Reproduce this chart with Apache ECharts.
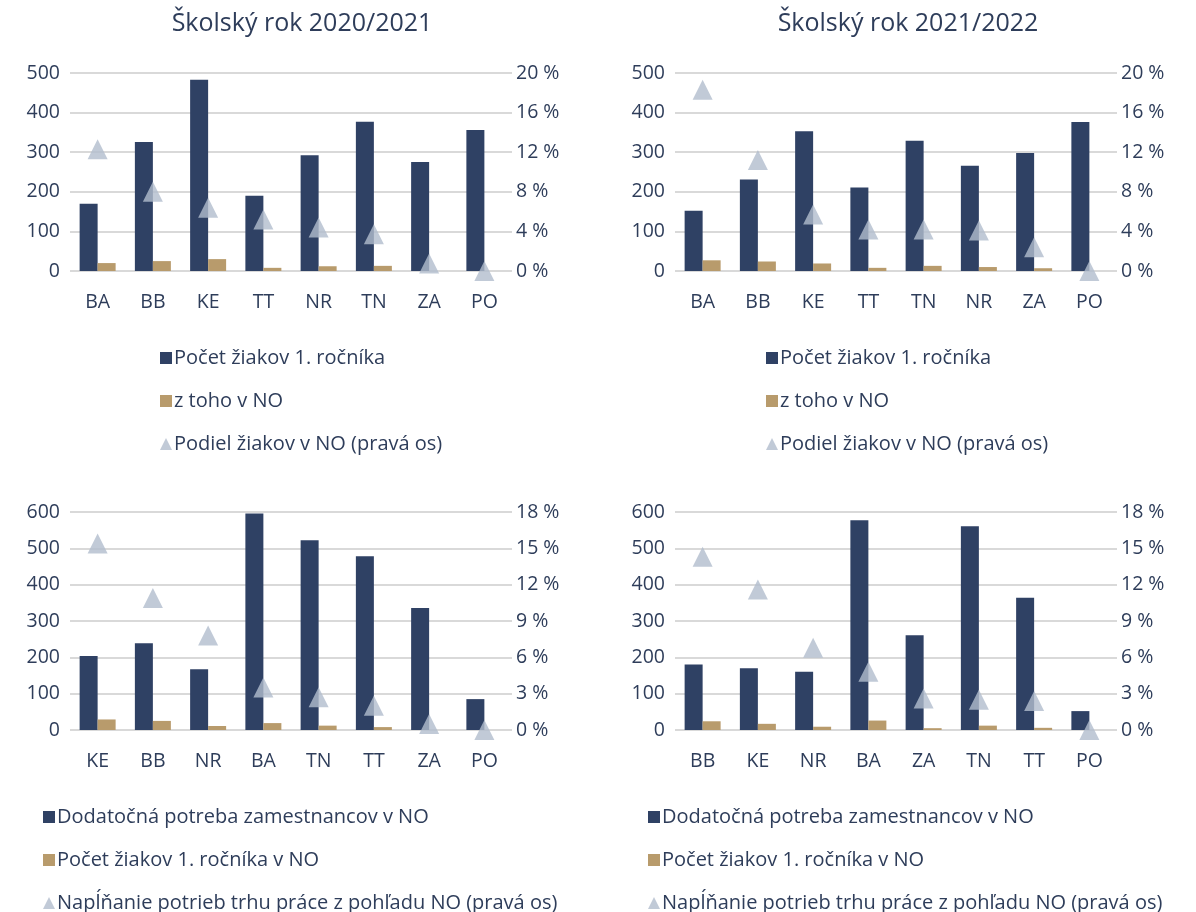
<!DOCTYPE html>
<html>
<head>
<meta charset="utf-8">
<script src="https://cdn.jsdelivr.net/npm/echarts@6/dist/echarts.min.js"></script>
<style>
html,body{margin:0;padding:0;background:#fff;}
#c{width:1196px;height:912px;}
</style>
</head>
<body>
<div id="c"></div>
<script>
// Top-left: Školský rok 2020/2021
const cats1 = ['BA','BB','KE','TT','NR','TN','ZA','PO'];
const pupils1 = [170, 326, 483, 190, 292, 377, 275, 356];
const pupilsNO1 = [20, 25, 30, 8, 12, 13, 0, 0];
const shareNO1 = [12.3, 8.0, 6.4, 5.2, 4.4, 3.7, 0.75, 0];

// Top-right: Školský rok 2021/2022
const cats2 = ['BA','BB','KE','TT','TN','NR','ZA','PO'];
const pupils2 = [152, 231, 353, 211, 329, 266, 298, 376];
const pupilsNO2 = [27, 24, 19, 8, 13, 10, 7, 0];
const shareNO2 = [18.3, 11.2, 5.7, 4.2, 4.2, 4.1, 2.4, 0];

// Bottom-left
const cats3 = ['KE','BB','NR','BA','TN','TT','ZA','PO'];
const need3 = [204, 239, 167, 596, 522, 478, 336, 85];
const pupilsNO3 = [29, 25, 11, 19, 12, 8, 0, 0];
const fill3 = [15.4, 10.9, 7.8, 3.5, 2.7, 2.0, 0.5, 0];

// Bottom-right
const cats4 = ['BB','KE','NR','BA','ZA','TN','TT','PO'];
const need4 = [180, 170, 160, 577, 261, 561, 364, 52];
const pupilsNO4 = [24, 17, 9, 26, 5, 12, 6, 0];
const fill4 = [14.3, 11.6, 6.8, 4.8, 2.6, 2.5, 2.4, 0];

const titles = ['Školský rok 2020/2021', 'Školský rok 2021/2022'];
const legendTop = ['Počet žiakov 1. ročníka', 'z toho v NO', 'Podiel žiakov v NO (pravá os)'];
const legendBottom = ['Dodatočná potreba zamestnancov v NO', 'Počet žiakov 1. ročníka v NO', 'Napĺňanie potrieb trhu práce z pohľadu NO (pravá os)'];

const NAVY = '#2F4164', TAN = '#B89B6C', TRI = '#B2BDCD', TXT = '#2E3D5A', GRID = '#D9D9D9';
const FONT = '"Open Sans", "Noto Sans", sans-serif';
const AX = 19.5;

const chart = echarts.init(document.getElementById('c'));

const grids = [
  {left: 70, right: 1196 - 512, top: 73, height: 198},
  {left: 675, right: 1196 - 1117, top: 73, height: 198},
  {left: 70, right: 1196 - 512, top: 512, height: 218},
  {left: 675, right: 1196 - 1117, top: 512, height: 218}
];
const catsAll = [cats1, cats2, cats3, cats4];

const xAxes = catsAll.map((c, i) => ({
  type: 'category', gridIndex: i, data: c,
  axisLine: {show: false}, axisTick: {show: false},
  axisLabel: {color: TXT, fontSize: AX, fontFamily: FONT, margin: 21}
}));

const yAxes = [];
for (let i = 0; i < 4; i++) {
  const top = i < 2;
  yAxes.push({
    type: 'value', gridIndex: i, min: 0, max: top ? 500 : 600, interval: 100,
    axisLine: {show: false}, axisTick: {show: false},
    splitLine: {lineStyle: {color: GRID, width: 2}},
    axisLabel: {color: TXT, fontSize: AX, fontFamily: FONT, margin: 10}
  });
  yAxes.push({
    type: 'value', gridIndex: i, position: 'right', min: 0, max: top ? 20 : 18, interval: top ? 4 : 3,
    axisLine: {show: false}, axisTick: {show: false}, splitLine: {show: false},
    axisLabel: {color: TXT, fontSize: AX, fontFamily: FONT, margin: 4, formatter: '{value} %'}
  });
}

const barData = [[pupils1, pupilsNO1, shareNO1], [pupils2, pupilsNO2, shareNO2], [need3, pupilsNO3, fill3], [need4, pupilsNO4, fill4]];
const series = [];
barData.forEach((d, i) => {
  const names = i < 2 ? legendTop : legendBottom;
  const sfx = '#' + i;
  series.push({name: names[0] + sfx, type: 'bar', xAxisIndex: i, yAxisIndex: 2 * i, data: d[0], barWidth: 18, barGap: '0%', itemStyle: {color: NAVY}});
  series.push({name: names[1] + sfx, type: 'bar', xAxisIndex: i, yAxisIndex: 2 * i, data: d[1], barWidth: 18, barGap: '0%', itemStyle: {color: TAN}});
  series.push({name: names[2] + sfx, type: 'scatter', xAxisIndex: i, yAxisIndex: 2 * i + 1, data: d[2], symbol: 'triangle', symbolSize: [20, 20], itemStyle: {color: TRI}, z: 5});
});

const legendPos = [[155, 343], [761, 343], [38, 802], [643, 802]];
const legends = legendPos.map((p, i) => {
  const names = i < 2 ? legendTop : legendBottom;
  const sfx = '#' + i;
  return {
    orient: 'vertical', left: p[0], top: p[1], height: 140, width: 560, itemGap: 23, itemWidth: 12, itemHeight: 12,
    data: [
      {name: names[0] + sfx, icon: 'rect'},
      {name: names[1] + sfx, icon: 'rect'},
      {name: names[2] + sfx, icon: 'triangle'}
    ],
    formatter: n => n.replace(/#\d$/, ''),
    textStyle: {color: TXT, fontSize: 20, fontFamily: FONT, lineHeight: 20, padding: [0, 0, 0, -3]},
    selectedMode: false
  };
});

chart.setOption({
  animation: false,
  title: [
    {text: titles[0], left: 297, top: 6, textAlign: 'center', textStyle: {color: TXT, fontSize: 25, fontWeight: 'normal', fontFamily: FONT}},
    {text: titles[1], left: 903, top: 6, textAlign: 'center', textStyle: {color: TXT, fontSize: 25, fontWeight: 'normal', fontFamily: FONT}}
  ],
  grid: grids,
  xAxis: xAxes,
  yAxis: yAxes,
  legend: legends,
  series: series
});
</script>
</body>
</html>
